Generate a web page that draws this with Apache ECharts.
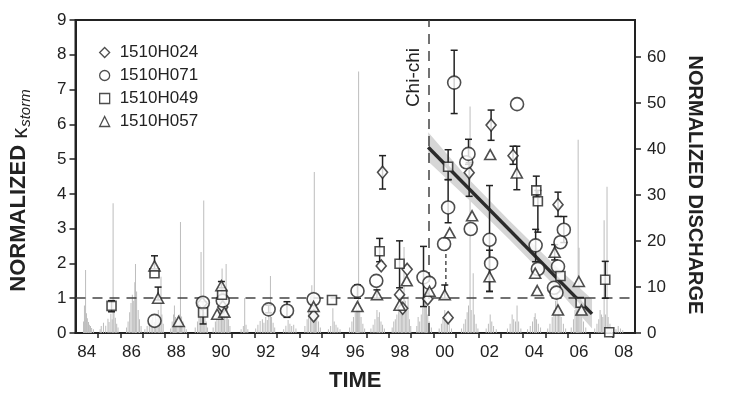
<!DOCTYPE html>
<html>
<head>
<meta charset="utf-8">
<script src="https://cdn.jsdelivr.net/npm/echarts@6/dist/echarts.min.js"></script>
<style>
  html, body { margin: 0; padding: 0; background: #fff; }
  #chart { width: 736px; height: 398px; }
</style>
</head>
<body>
<div id="chart"></div>
<script>
// 字体
const FONT = "'Liberation Sans', Arial, Helvetica, sans-serif";

// x 轴: 年份刻度与标签 (标签放在年中)
const yearTicks = [1985, 1986, 1987, 1988, 1989, 1990, 1991, 1992, 1993, 1994, 1995, 1996,
  1997, 1998, 1999, 2000, 2001, 2002, 2003, 2004, 2005, 2006, 2007, 2008];
const yearLabels = [1984.5, 1986.5, 1988.5, 1990.5, 1992.5, 1994.5, 1996.5, 1998.5,
  2000.5, 2002.5, 2004.5, 2006.5, 2008.5];
const dischargeTicks = [0, 10, 20, 30, 40, 50, 60];

// 各井的 κstorm 值 [年份, 值]
const h024 = [[1989.66, 0.85], [1990.58, 0.75], [1994.64, 0.49], [1997.72, 4.62], [1997.66, 1.93],
  [1998.48, 1.1], [1998.62, 0.71], [1998.82, 1.83], [1999.74, 0.98], [2000.65, 0.44],
  [2001.59, 4.61], [2002.57, 5.98], [2003.55, 5.1], [2005.56, 3.69]];
const h071 = [[1987.53, 0.35], [1989.69, 0.87], [1990.58, 0.93], [1992.63, 0.68], [1993.45, 0.64],
  [1994.64, 0.97], [1996.6, 1.21], [1997.44, 1.5], [1999.55, 1.6], [1999.81, 1.44],
  [2000.47, 2.56], [2000.65, 3.61], [2000.92, 7.2], [2001.46, 4.91], [2001.56, 5.15],
  [2001.66, 2.99], [2002.5, 2.68], [2002.57, 2.0], [2003.73, 6.58], [2004.56, 2.52],
  [2004.66, 1.84], [2005.38, 1.3], [2005.49, 1.16], [2005.56, 1.91], [2005.67, 2.61], [2005.82, 2.97]];
const h049 = [[1985.61, 0.78], [1987.53, 1.72], [1989.7, 0.59], [1990.55, 1.1], [1995.46, 0.95],
  [1997.59, 2.35], [1998.48, 1.99], [2000.65, 4.78], [2004.59, 4.1], [2004.66, 3.79],
  [2005.67, 1.64], [2006.57, 0.87], [2007.67, 1.53], [2007.85, 0.02]];
const h057 = [[1987.53, 1.93], [1987.69, 1.0], [1988.61, 0.33], [1990.33, 0.54], [1990.52, 1.36],
  [1990.65, 0.6], [1994.64, 0.76], [1996.6, 0.76], [1997.47, 1.1], [1998.48, 0.8],
  [1998.8, 1.5], [1999.82, 1.2], [2000.5, 1.1], [2000.72, 2.88], [2001.72, 3.37],
  [2002.5, 1.62], [2002.53, 5.13], [2003.72, 4.6], [2004.54, 1.72], [2004.63, 1.22],
  [2005.41, 2.32], [2005.56, 0.66], [2006.49, 1.48], [2006.61, 0.66]];

// 误差棒 [年份, 下限, 上限]
const h024Err = [[1997.72, 4.14, 5.1], [2001.59, 3.93, 4.9], [2002.57, 5.54, 6.41],
  [2003.55, 4.85, 5.37], [2005.56, 3.35, 4.05]];
const h071Err = [[1992.63, 0.58, 0.8], [1993.45, 0.45, 0.9], [1996.6, 1.0, 1.38],
  [1999.55, 0.76, 2.49], [2000.65, 3.17, 4.41], [2000.92, 6.31, 8.13], [2001.56, 4.85, 5.57],
  [2002.5, 1.19, 4.24], [2004.56, 2.05, 2.98], [2005.82, 2.6, 3.35]];
const h049Err = [[1985.61, 0.61, 0.93], [1989.7, 0.26, 0.9], [1997.59, 2.05, 2.72],
  [1998.48, 1.3, 2.65], [2000.65, 4.41, 5.27], [2004.59, 3.9, 4.51], [2004.66, 2.9, 4.1],
  [2006.57, 0.75, 1.02], [2007.67, 1.0, 2.06]];
const h057Err = [[1987.53, 1.8, 2.22], [1987.69, 0.95, 1.32], [1990.52, 1.3, 1.48],
  [1997.47, 1.0, 1.24], [2000.5, 1.0, 1.38], [2002.5, 1.2, 2.38], [2003.72, 4.12, 5.37],
  [2005.41, 2.1, 2.54]];
const dashedSeg = [[2000.55, 1.35], [2000.55, 2.4]];

// 回归线与置信带
const fitLine = [[1999.76, 5.34], [2007.08, 0.55]];
const bandX = [1999.76, 2001.5, 2003.4, 2005.3, 2007.08];
const bandLo = [4.93, 3.88, 2.68, 1.43, 0.13];
const bandHi = [5.77, 4.47, 3.22, 2.02, 0.97];

// 集集地震
const chichiX = 1999.8;

// 归一化流量 [年份, 值]
const discharge = [
  [1984.36, 2.5], [1984.40, 6], [1984.45, 13.7], [1984.49, 4.3], [1984.53, 3.2], [1984.58, 2.4], [1984.62, 1.8], [1984.67, 1.5], [1984.72, 1.1], [1984.8, 0.8],
  [1985.1, 0.8], [1985.15, 1.5], [1985.25, 2.2], [1985.35, 1.6], [1985.45, 3.1], [1985.5, 2.4], [1985.58, 4.2], [1985.64, 3], [1985.68, 28.2], [1985.72, 5.5], [1985.78, 3.3], [1985.84, 2], [1985.9, 1.2],
  [1986.28, 1.2], [1986.35, 2.5], [1986.42, 4.5], [1986.48, 6.5], [1986.54, 8.3], [1986.6, 7], [1986.65, 11], [1986.68, 15], [1986.73, 9], [1986.8, 5], [1986.86, 3], [1986.93, 1.5],
  [1987.1, 0.8], [1987.2, 1.5], [1987.3, 2.2], [1987.38, 2.8], [1987.45, 3.5], [1987.52, 2.4], [1987.58, 4], [1987.64, 3], [1987.7, 5], [1987.76, 3.5], [1987.82, 12.2], [1987.86, 4], [1987.92, 2],
  [1988.25, 1], [1988.32, 2.5], [1988.38, 4], [1988.42, 6], [1988.47, 3.5], [1988.52, 2.5], [1988.58, 3.2], [1988.64, 4], [1988.69, 24.1], [1988.74, 3.6], [1988.8, 2.5], [1988.88, 1.5], [1988.95, 0.8],
  [1989.35, 1.2], [1989.45, 2.5], [1989.52, 3.5], [1989.58, 5], [1989.61, 17.6], [1989.66, 4], [1989.73, 28.8], [1989.78, 4.5], [1989.84, 2.5], [1989.9, 1.2],
  [1990.15, 1.2], [1990.25, 2.5], [1990.32, 4], [1990.4, 5.5], [1990.46, 8], [1990.52, 10], [1990.55, 14], [1990.6, 9], [1990.66, 7], [1990.73, 15], [1990.78, 6], [1990.84, 3], [1990.9, 1.5],
  [1991.4, 0.8], [1991.5, 1.5], [1991.56, 7.6], [1991.62, 1.8], [1991.7, 0.8],
  [1992.05, 1], [1992.15, 1.8], [1992.25, 2.6], [1992.35, 3], [1992.42, 2.2], [1992.5, 3.5], [1992.57, 2.8], [1992.64, 4], [1992.71, 12.4], [1992.76, 3.5], [1992.83, 2.2], [1992.9, 1.2],
  [1993.3, 0.8], [1993.4, 1.6], [1993.5, 2.8], [1993.58, 2], [1993.66, 1.5], [1993.75, 1.8], [1993.85, 1],
  [1994.25, 1.5], [1994.35, 3], [1994.42, 5], [1994.5, 8], [1994.56, 10.4], [1994.62, 9], [1994.67, 35], [1994.72, 6], [1994.78, 4], [1994.86, 2.5], [1994.94, 1.2],
  [1995.3, 0.8], [1995.4, 1.5], [1995.5, 5.4], [1995.56, 2.5], [1995.64, 1.8], [1995.72, 1.2], [1995.82, 0.8],
  [1996.25, 1.2], [1996.35, 2.5], [1996.42, 3.5], [1996.5, 4.5], [1996.56, 6], [1996.6, 5], [1996.65, 56.8], [1996.7, 5], [1996.76, 3.5], [1996.84, 2], [1996.92, 1],
  [1997.2, 1], [1997.3, 1.8], [1997.38, 3], [1997.47, 5], [1997.52, 3.5], [1997.58, 4.5], [1997.65, 2.5], [1997.72, 1.8], [1997.8, 1],
  [1998.15, 1.2], [1998.22, 2.5], [1998.29, 3], [1998.36, 4], [1998.44, 6], [1998.5, 5], [1998.56, 8], [1998.62, 6.5], [1998.68, 18.7], [1998.74, 7], [1998.8, 5], [1998.86, 8], [1998.92, 3], [1998.98, 1.5],
  [1999.25, 1.5], [1999.31, 3.5], [1999.38, 2.5], [1999.45, 4], [1999.52, 5.5], [1999.58, 7], [1999.63, 8.7], [1999.68, 6], [1999.74, 4], [1999.8, 2.5], [1999.9, 1.2],
  [2000.25, 1], [2000.35, 2], [2000.42, 3.5], [2000.5, 5], [2000.56, 4], [2000.62, 3], [2000.7, 2], [2000.8, 1],
  [2001.25, 1], [2001.35, 2], [2001.42, 3], [2001.5, 4.5], [2001.56, 6], [2001.63, 49.2], [2001.68, 5], [2001.77, 13], [2001.82, 4], [2001.9, 2], [2001.98, 1],
  [2002.35, 1], [2002.45, 2], [2002.53, 4], [2002.6, 2.5], [2002.68, 1.5], [2002.8, 0.8],
  [2003.3, 1], [2003.42, 2], [2003.51, 4], [2003.58, 3], [2003.66, 2.5], [2003.73, 6], [2003.8, 2.5], [2003.9, 1],
  [2004.2, 0.8], [2004.32, 1.5], [2004.42, 2.5], [2004.5, 3.5], [2004.54, 4.3], [2004.6, 3], [2004.68, 2], [2004.78, 1.2],
  [2005.1, 1], [2005.2, 2], [2005.3, 3.5], [2005.38, 5], [2005.45, 7], [2005.52, 9.3], [2005.58, 6], [2005.64, 5], [2005.7, 3.5], [2005.8, 2], [2005.9, 1],
  [2006.15, 1.2], [2006.25, 3], [2006.32, 5], [2006.38, 8], [2006.42, 10], [2006.46, 42], [2006.5, 18.5], [2006.55, 7], [2006.62, 4], [2006.7, 2.5], [2006.8, 1.2],
  [2007.2, 1], [2007.3, 2], [2007.38, 3], [2007.44, 5], [2007.5, 4], [2007.56, 3.5], [2007.62, 24.5], [2007.68, 4], [2007.75, 31.8], [2007.8, 3.5], [2007.88, 2], [2007.95, 1],
  [2008.15, 0.8], [2008.25, 1.5], [2008.35, 1], [2008.45, 0.6]
];

const chart = echarts.init(document.getElementById('chart'));

// 误差棒绘制
function renderErr(params, api) {
  const x = api.value(0);
  const p1 = api.coord([x, api.value(1)]);
  const p2 = api.coord([x, api.value(2)]);
  const c = 3.5;
  const st = { stroke: '#222', lineWidth: 1.5 };
  return {
    type: 'group',
    children: [
      { type: 'line', shape: { x1: p1[0], y1: p1[1], x2: p2[0], y2: p2[1] }, style: st },
      { type: 'line', shape: { x1: p1[0] - c, y1: p1[1], x2: p1[0] + c, y2: p1[1] }, style: st },
      { type: 'line', shape: { x1: p2[0] - c, y1: p2[1], x2: p2[0] + c, y2: p2[1] }, style: st }
    ]
  };
}

// 置信带
function renderBand(params, api) {
  const pts = [];
  for (let i = 0; i < bandX.length; i++) pts.push(api.coord([bandX[i], bandHi[i]]));
  for (let i = bandX.length - 1; i >= 0; i--) pts.push(api.coord([bandX[i], bandLo[i]]));
  return { type: 'polygon', shape: { points: pts }, style: { fill: '#d6d6d6' } };
}

const markerStyle = { color: '#fff', borderColor: '#222', borderWidth: 1.6 };

function wellSeries(name, symbol, size, data) {
  return {
    name: name,
    type: 'scatter',
    symbol: symbol,
    symbolSize: size,
    itemStyle: markerStyle,
    z: 6,
    silent: true,
    data: data
  };
}

function errSeries(data) {
  return {
    type: 'custom',
    renderItem: renderErr,
    encode: { x: 0, y: [1, 2] },
    z: 5,
    silent: true,
    data: data
  };
}

const option = {
  animation: false,
  backgroundColor: '#fff',
  textStyle: { fontFamily: FONT },
  grid: {
    left: 75, right: 101, top: 20, bottom: 65,
    show: true, borderColor: '#222', borderWidth: 2
  },
  legend: {
    orient: 'vertical',
    left: 94, top: 39,
    itemWidth: 10, itemHeight: 10, itemGap: 6,
    itemStyle: { color: '#fff', borderColor: '#222', borderWidth: 1.3 },
    textStyle: { fontSize: 17, color: '#222', fontFamily: FONT, lineHeight: 17, padding: [0, 0, 0, 5] },
    data: ['1510H024', '1510H071', '1510H049', '1510H057']
  },
  xAxis: {
    type: 'value',
    min: 1984, max: 2009,
    name: 'TIME',
    nameLocation: 'middle',
    nameGap: 37,
    nameTextStyle: { fontSize: 22, fontWeight: 'bold', color: '#222', fontFamily: FONT },
    axisLine: { lineStyle: { color: '#222', width: 2 } },
    axisTick: { customValues: yearTicks, length: 5, lineStyle: { color: '#222', width: 1.5 } },
    axisLabel: {
      customValues: yearLabels,
      margin: 11,
      fontSize: 17, color: '#222', fontFamily: FONT,
      formatter: v => String(Math.floor(v) % 100).padStart(2, '0')
    },
    splitLine: { show: false }
  },
  yAxis: [{
    type: 'value',
    position: 'left',
    min: 0, max: 9, interval: 1,
    name: '{b|NORMALIZED }{k|κ}{s|storm}',
    nameLocation: 'middle',
    nameGap: 42,
    nameRotate: 90,
    nameTextStyle: {
      color: '#222',
      padding: [0, 28, 0, 0],
      rich: {
        b: { fontSize: 22, fontWeight: 'bold', fontFamily: FONT, color: '#222' },
        k: { fontSize: 22, fontFamily: FONT, color: '#222', padding: [4, 1, 0, 0] },
        s: { fontSize: 15, fontStyle: 'italic', fontFamily: FONT, color: '#222', padding: [14, 0, 0, 0] }
      }
    },
    axisLine: { show: true, lineStyle: { color: '#222', width: 2 } },
    axisTick: { show: true, length: 6, lineStyle: { color: '#222', width: 1.5 } },
    axisLabel: { margin: 9, fontSize: 17, color: '#222', fontFamily: FONT },
    splitLine: { show: false }
  }, {
    type: 'value',
    position: 'right',
    min: 0, max: 68,
    name: 'NORMALIZED DISCHARGE',
    nameLocation: 'middle',
    nameGap: 50,
    nameRotate: -90,
    nameTextStyle: { fontSize: 20, fontWeight: 'bold', color: '#222', fontFamily: FONT, padding: [0, 0, 0, 17] },
    axisLine: { show: true, lineStyle: { color: '#222', width: 2 } },
    axisTick: { show: true, customValues: dischargeTicks, length: 6, lineStyle: { color: '#222', width: 1.5 } },
    axisLabel: { customValues: dischargeTicks, margin: 12, fontSize: 17, color: '#222', fontFamily: FONT },
    splitLine: { show: false }
  }],
  series: [
    {
      type: 'bar',
      yAxisIndex: 1,
      barWidth: 1,
      barGap: '-100%',
      itemStyle: { color: '#bdbdbd' },
      silent: true,
      z: 1,
      data: discharge
    },
    {
      type: 'custom',
      renderItem: renderBand,
      silent: true,
      z: 2,
      data: [[bandX[0], bandLo[0]]]
    },
    {
      type: 'line',
      data: [],
      z: 3,
      silent: true,
      markLine: {
        silent: true,
        symbol: 'none',
        label: { show: false },
        lineStyle: { color: '#444', width: 1.5, type: [10, 7] },
        data: [
          { yAxis: 1 },
          {
            xAxis: chichiX,
            label: {
              show: true,
              formatter: 'Chi-chi',
              position: 'insideEndTop',
              distance: [28, 6],
              fontSize: 19,
              color: '#222',
              fontFamily: FONT
            }
          }
        ]
      }
    },
    {
      type: 'line',
      data: fitLine,
      symbol: 'none',
      z: 4,
      silent: true,
      lineStyle: { color: '#2b2b2b', width: 3.5 }
    },
    {
      type: 'line',
      data: dashedSeg,
      symbol: 'none',
      z: 4,
      silent: true,
      lineStyle: { color: '#333', width: 1.3, type: [4, 3] }
    },
    errSeries(h024Err),
    errSeries(h071Err),
    errSeries(h049Err),
    errSeries(h057Err),
    wellSeries('1510H024', 'diamond', [10, 12], h024),
    wellSeries('1510H071', 'circle', 13, h071),
    wellSeries('1510H049', 'rect', 9, h049),
    wellSeries('1510H057', 'triangle', [11, 10], h057)
  ]
};

chart.setOption(option);
</script>
</body>
</html>
